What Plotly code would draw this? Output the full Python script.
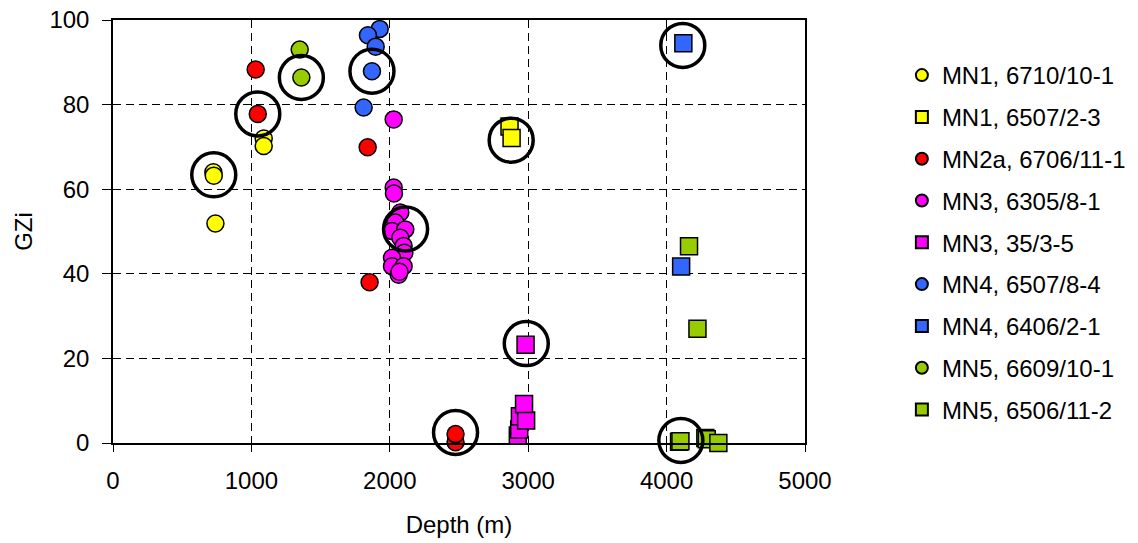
import plotly.graph_objects as go

# ---- data (Depth in m, GZi) ----
mn1_6710_x = [725, 728, 740, 1089, 1089]
mn1_6710_y = [64.0, 63.2, 51.9, 72.0, 70.2]

mn1_6507_x = [2865, 2880]
mn1_6507_y = [74.8, 72.1]

mn2a_6706_x = [1031, 1046, 1840, 1854, 2475, 2475]
mn2a_6706_y = [88.3, 77.8, 69.9, 38.0, 0.2, 2.1]

mn3_6305_x = [2028, 2028, 2030, 2076, 2040, 2016, 2112, 2076, 2100, 2105, 2016, 2016, 2100, 2064, 2070]
mn3_6305_y = [76.5, 60.4, 59.0, 54.5, 52.1, 50.1, 50.5, 48.5, 46.6, 45.0, 43.8, 41.8, 41.8, 39.8, 40.5]

mn3_35_x = [2925, 2935, 2940, 2985, 2970, 2981]
mn3_35_y = [1.8, 3.2, 6.3, 5.3, 9.2, 23.2]

mn4_6507_x = [1927, 1842, 1898, 1871, 1811]
mn4_6507_y = [97.9, 96.4, 93.7, 87.9, 79.3]

mn4_6406_x = [4121, 4105]
mn4_6406_y = [94.5, 41.7]

mn5_6609_x = [1349, 1361]
mn5_6609_y = [93.0, 86.4]

mn5_6506_x = [4162, 4223, 4090, 4100, 4280, 4290, 4374]
mn5_6506_y = [46.5, 27.0, 0.3, 0.4, 1.2, 0.9, 0.0]

ring_x = [728, 1046, 1361, 1871, 2114, 2877, 2986, 2475, 4117, 4103]
ring_y = [63.4, 77.8, 86.4, 87.9, 50.6, 71.6, 23.5, 2.5, 94.0, 0.6]

series = [
    ("MN1, 6710/10-1", mn1_6710_x, mn1_6710_y, "circle", "#FFFF00"),
    ("MN1, 6507/2-3", mn1_6507_x, mn1_6507_y, "square", "#FFFF00"),
    ("MN2a, 6706/11-1", mn2a_6706_x, mn2a_6706_y, "circle", "#FF0000"),
    ("MN3, 6305/8-1", mn3_6305_x, mn3_6305_y, "circle", "#FF00FF"),
    ("MN3, 35/3-5", mn3_35_x, mn3_35_y, "square", "#FF00FF"),
    ("MN4, 6507/8-4", mn4_6507_x, mn4_6507_y, "circle", "#3366FF"),
    ("MN4, 6406/2-1", mn4_6406_x, mn4_6406_y, "square", "#3366FF"),
    ("MN5, 6609/10-1", mn5_6609_x, mn5_6609_y, "circle", "#99CC00"),
    ("MN5, 6506/11-2", mn5_6506_x, mn5_6506_y, "square", "#99CC00"),
]

FONT = "Liberation Sans, Arial, sans-serif"

fig = go.Figure()
for i, (name, xs, ys, sym, col) in enumerate(series):
    fig.add_trace(go.Scatter(
        x=xs, y=ys, mode="markers", name=name, legendgroup=f"g{i}",
        cliponaxis=False,
        marker=dict(symbol=sym, size=17, color=col,
                    line=dict(color="black", width=1.5)),
    ))

fig.add_trace(go.Scatter(
    x=ring_x, y=ring_y, mode="markers", showlegend=False, cliponaxis=False,
    marker=dict(symbol="circle-open", size=44, color="black",
                line=dict(color="black", width=3.5)),
    hoverinfo="skip",
))

# invisible trace for inner tick overlay
fig.add_trace(go.Scatter(x=[0], y=[0], xaxis="x2", mode="markers",
                         marker=dict(opacity=0), showlegend=False, hoverinfo="skip"))

fig.update_layout(
    width=1138, height=543,
    margin=dict(l=113, r=333, t=20, b=100, autoexpand=False),
    paper_bgcolor="white", plot_bgcolor="white",
    font=dict(family=FONT, size=24, color="black"),
    showlegend=True,
    legend=dict(x=1.14, y=0.922, xanchor="left", yanchor="top",
                font=dict(family=FONT, size=24, color="black"),
                tracegroupgap=7.6, itemsizing="constant",
                bgcolor="rgba(0,0,0,0)"),
    xaxis=dict(
        range=[0, 5000], tickvals=[0, 1000, 2000, 3000, 4000, 5000],
        ticks="outside", ticklen=7, tickwidth=1, tickcolor="black",
        showline=True, linecolor="black", linewidth=1.5, mirror=True,
        showgrid=True, gridcolor="black", gridwidth=1, griddash="8px,5px",
        zeroline=False, ticklabelstandoff=8,
        title=dict(text="Depth (m)", font=dict(size=24), standoff=24),
    ),
    xaxis2=dict(
        range=[0, 5000], overlaying="x", side="bottom",
        tickvals=[0, 1000, 2000, 3000, 4000, 5000],
        ticks="inside", ticklen=7, tickwidth=1, tickcolor="black",
        showticklabels=False, showgrid=False, showline=False, zeroline=False,
    ),
    yaxis=dict(
        range=[0, 100], tickvals=[0, 20, 40, 60, 80, 100],
        ticks="outside", ticklen=9, tickwidth=1, tickcolor="black",
        showline=True, linecolor="black", linewidth=1.5, mirror=True,
        showgrid=True, gridcolor="black", gridwidth=1, griddash="8px,5px",
        zeroline=False, ticklabelstandoff=8,
        title=dict(text="GZi", font=dict(size=24), standoff=10),
    ),
)

fig.write_html("out.html")
